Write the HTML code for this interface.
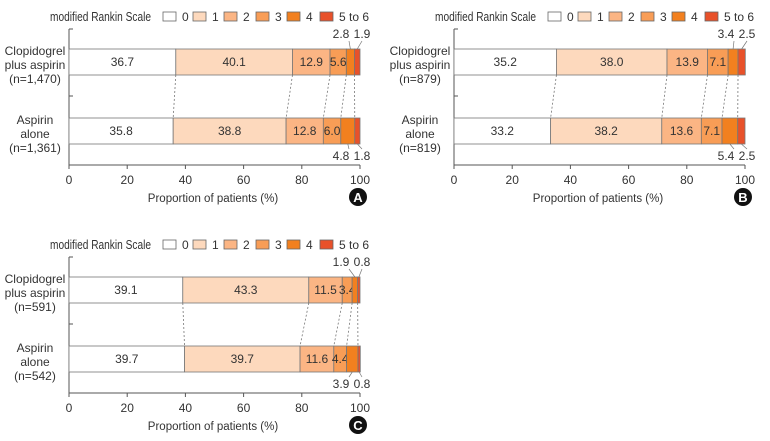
<!DOCTYPE html>
<html><head><meta charset="utf-8"><style>
html,body{margin:0;padding:0;background:#fff}
svg{display:block;font-family:"Liberation Sans",sans-serif}
</style></head><body>
<svg id="c" width="770" height="441" viewBox="0 0 770 441"></svg>
<script>
const categories = ["0","1","2","3","4","5 to 6"];
const groups = [["Clopidogrel","plus aspirin"],["Aspirin","alone"]];
const panelLetters = ["A","B","C"];
const panelN = [["(n=1,470)","(n=1,361)"],["(n=879)","(n=819)"],["(n=591)","(n=542)"]];
const seriesA = [[36.7,40.1,12.9,5.6,2.8,1.9],[35.8,38.8,12.8,6.0,4.8,1.8]];
const seriesB = [[35.2,38.0,13.9,7.1,3.4,2.5],[33.2,38.2,13.6,7.1,5.4,2.5]];
const seriesC = [[39.1,43.3,11.5,3.4,1.9,0.8],[39.7,39.7,11.6,4.4,3.9,0.8]];
const tickLabels = [0,20,40,60,80,100];
const colors = ["#ffffff","#fdd9bd","#fbb584","#f89d56","#f2801f","#e8512a"];
const svg = document.getElementById('c');
const NS = "http://www.w3.org/2000/svg";
function mk(tag, attrs, parent, text){const e=document.createElementNS(NS,tag);for(const k in attrs)e.setAttribute(k,attrs[k]);if(text!==undefined)e.textContent=text;(parent||svg).appendChild(e);return e;}
function fmt(v){return v.toFixed(1);}
function panel(series, ox, oy, idx){
  const g = mk('g',{transform:`translate(${ox},${oy})`});
  
  
  const x0=69, x1=360;
  const xs = v => x0 + (x1-x0)*v/100;
  const barY=[49,118], barH=26;
  const lg = mk('g',{},g);
  
  
  mk('text',{x:50,y:21,'font-size':12.5,fill:'#333',textLength:101,lengthAdjust:'spacingAndGlyphs'},lg,'modified Rankin Scale');
  const lx=[163,193,224,256,287,320];
  categories.forEach((c,i)=>{
    const e = mk('g',{},lg);
    
    
    mk('rect',{x:lx[i],y:12,width:13,height:9,fill:colors[i],stroke:'#666','stroke-width':0.8},e);
    mk('text',{x:lx[i]+19,y:21,'font-size':12,fill:'#333'},e,c);
  });
  const ax = mk('g',{stroke:'#555','stroke-width':1},g);
  
  
  mk('line',{x1:x0,y1:29,x2:x0,y2:165},ax);
  mk('line',{x1:x0,y1:165,x2:x1,y2:165},ax);
  [29,96].forEach(y=>mk('line',{x1:x0,y1:y,x2:x0+4,y2:y},ax));
  [62,131].forEach(y=>mk('line',{x1:x0,y1:y,x2:x0+4,y2:y},ax));
  tickLabels.forEach(t=>{
    mk('line',{x1:xs(t),y1:165,x2:xs(t),y2:169},ax);
    const tl=mk('text',{x:xs(t),y:184,'font-size':12,fill:'#333','text-anchor':'middle',stroke:'none'},g,String(t));
    
    
  });
  const xt=mk('text',{x:213,y:202,'font-size':11.5,fill:'#333','text-anchor':'middle'},g,'Proportion of patients (%)');
  
  
  const bd=mk('circle',{cx:358,cy:197,r:9,fill:'#111'},g);
  
  
  mk('text',{x:358,y:202,'font-size':13,'font-weight':'bold',fill:'#fff','text-anchor':'middle'},g,panelLetters[idx]);
  groups.forEach((gl,r)=>{
    const t=mk('text',{x:35,'font-size':12,fill:'#333','text-anchor':'middle'},g);
    
    
    const lines=[gl[0],gl[1],panelN[idx][r]];
    lines.forEach((l,k)=>mk('tspan',{x:35,y:barY[r]+6+k*14},t,l));
  });
  const cum = series.map(s=>{let c=0;return s.map(v=>{const a=c;c+=v;return [a,c];});});
  series.forEach((s,r)=>{
    s.forEach((v,i)=>{
      const [a,b]=cum[r][i];
      const rc=mk('rect',{x:xs(a),y:barY[r],width:Math.max(0,xs(b)-xs(a)),height:barH,fill:colors[i],stroke:'#777','stroke-width':0.8},g);
      
      
      if(i<4){
        mk('text',{x:(xs(a)+xs(b))/2,y:barY[r]+17,'font-size':12,fill:'#333','text-anchor':'middle'},g,fmt(v));
      }
    });
  });
  for(let i=0;i<5;i++){
    mk('line',{x1:xs(cum[0][i][1]),y1:barY[0]+barH,x2:xs(cum[1][i][1]),y2:barY[1],stroke:'#777','stroke-width':0.8,'stroke-dasharray':'2,2'},g);
  }
  const ly=[38,160];
  series.forEach((s,r)=>{
    [4,5].forEach((i,k)=>{
      const [a,b]=cum[r][i];
      const mid=(xs(a)+xs(b))/2;
      const tx = k===0 ? x1-19 : x1+2;
      const edgeY = r===0?barY[0]:barY[1]+barH;
      const tipY = r===0?ly[0]+3:ly[1]-11;
      mk('line',{x1:mid,y1:edgeY,x2:tx+(k===0?8:0),y2:tipY,stroke:'#777','stroke-width':0.7},g);
      mk('text',{x:tx,y:ly[r],'font-size':12,fill:'#333','text-anchor':'middle'},g,fmt(s[i]));
    });
  });
}
panel(seriesA,0,0,0);
panel(seriesB,385,0,1);
panel(seriesC,0,228,2);
</script>
</body></html>
